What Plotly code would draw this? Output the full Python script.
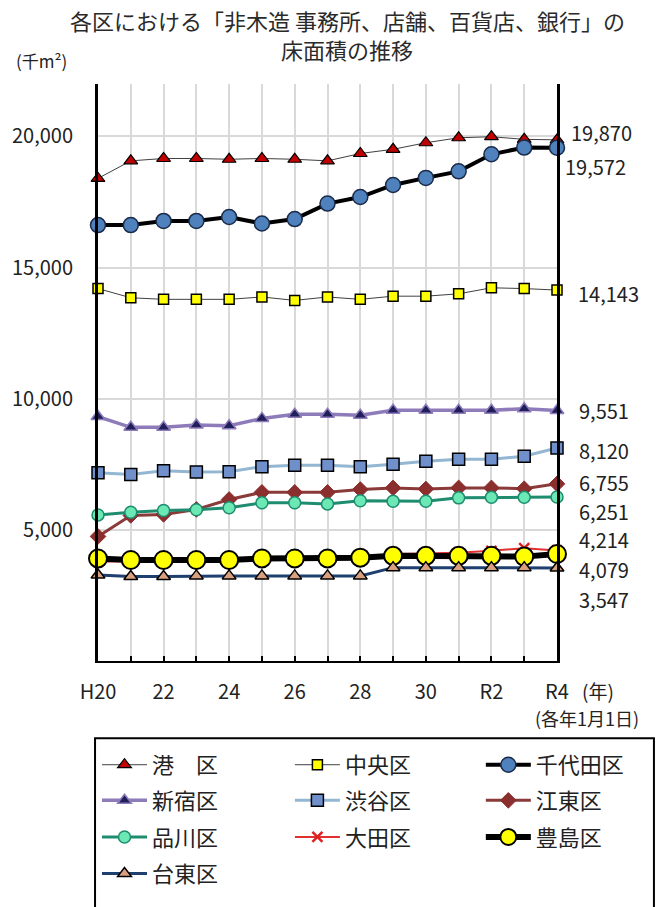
import plotly.graph_objects as go

years = ["H20", "21", "22", "23", "24", "25", "26", "27", "28", "29", "30", "R1", "R2", "R3", "R4"]
tick_labels = ["H20", "", "22", "", "24", "", "26", "", "28", "", "30", "", "R2", "", "R4"]

minato = [18400, 19070, 19160, 19160, 19130, 19160, 19130, 19070, 19350, 19510, 19760, 19950, 19990, 19890, 19870]
chuo = [14200, 13850, 13790, 13790, 13790, 13880, 13750, 13880, 13790, 13910, 13910, 14000, 14230, 14200, 14143]
chiyoda = [16620, 16620, 16780, 16780, 16930, 16680, 16850, 17440, 17690, 18150, 18420, 18670, 19320, 19575, 19572]
shinjuku = [9320, 8910, 8910, 9000, 8970, 9250, 9410, 9410, 9370, 9560, 9560, 9560, 9560, 9620, 9551]
shibuya = [7180, 7110, 7250, 7210, 7220, 7410, 7460, 7460, 7410, 7500, 7620, 7690, 7690, 7810, 8120]
koto = [4750, 5550, 5590, 5780, 6160, 6430, 6430, 6430, 6540, 6600, 6560, 6600, 6600, 6570, 6755]
shinagawa = [5570, 5670, 5740, 5770, 5840, 6030, 6030, 5990, 6110, 6090, 6090, 6220, 6240, 6240, 6251]
ota = [3780, 3800, 3820, 3850, 3870, 3900, 3920, 3940, 3960, 4080, 4100, 4130, 4200, 4300, 4214]
toshima = [3910, 3850, 3850, 3850, 3850, 3910, 3910, 3910, 3940, 4010, 4010, 4010, 4010, 3980, 4079]
taito = [3280, 3220, 3220, 3245, 3245, 3245, 3245, 3245, 3245, 3560, 3560, 3560, 3560, 3560, 3547]

FONT = "Noto Sans CJK JP, Noto Sans, sans-serif"
W, H = 668, 907
PL, PR, PT, PB = 93, 557, 84, 667


def px(x):
    return (x - PL) / (PR - PL)


def py(y):
    return (PB - y) / (PB - PT)


xs = list(range(len(years)))

series = [
    # name, data, line color, line width, symbol, marker color, marker size, outline color, outline width
    ("港　区", minato, "#404040", 1, "triangle-up", "#C00000", 12, "#000000", 1.2),
    ("中央区", chuo, "#404040", 1, "square", "#FFFF00", 10, "#000000", 1.5),
    ("千代田区", chiyoda, "#000000", 4, "circle", "#4F81BD", 15, "#1A2A48", 1.5),
    ("新宿区", shinjuku, "#8E7BBA", 3.5, "triangle-up", "#1F1F5A", 12, "#8E7BBA", 1.5),
    ("渋谷区", shibuya, "#93B6D2", 3, "square", "#7090CC", 12, "#000000", 1.5),
    ("江東区", koto, "#8B3A3A", 3, "diamond", "#8B2E2E", 12, "#8B2E2E", 1),
    ("品川区", shinagawa, "#1E8C6E", 3, "circle", "#6BE8B4", 12, "#1E8C6E", 1.5),
    ("大田区", ota, "#E03030", 2, "x-thin", "#E02020", 10, "#E02020", 2.5),
    ("豊島区", toshima, "#000000", 6, "circle", "#FFFF00", 18, "#000000", 2),
    ("台東区", taito, "#1F3F6F", 3, "triangle-up", "#D9A080", 12, "#000000", 1.5),
]

fig = go.Figure()
for i, (name, data, lc, lw, sym, mc, ms, oc, ow) in enumerate(series):
    fig.add_trace(go.Scatter(
        x=xs, y=data, name=name, mode="lines+markers",
        line=dict(color=lc, width=lw),
        marker=dict(symbol=sym, color=mc, size=ms, line=dict(color=oc, width=ow)),
        cliponaxis=False, legend="legend" if i == 0 else f"legend{i + 1}",
    ))

annotations = []
# title
annotations.append(dict(text="各区における「非木造 事務所、店舗、百貨店、銀行」の", x=px(345), y=py(19),
                        xref="paper", yref="paper", showarrow=False, xanchor="center", yanchor="middle",
                        font=dict(size=22, family=FONT, color="#2a2a2a")))
annotations.append(dict(text="床面積の推移", x=px(345), y=py(49),
                        xref="paper", yref="paper", showarrow=False, xanchor="center", yanchor="middle",
                        font=dict(size=22, family=FONT, color="#2a2a2a")))
annotations.append(dict(text="(千m²)", x=px(8), y=py(60), xref="paper", yref="paper", showarrow=False,
                        xanchor="left", yanchor="middle", font=dict(size=17, family=FONT, color="#222222")))
annotations.append(dict(text="(年)", x=px(598), y=py(697), xref="paper", yref="paper", showarrow=False,
                        xanchor="center", yanchor="middle", font=dict(size=19, family=FONT, color="#222222")))
annotations.append(dict(text="(各年1月1日)", x=px(642), y=py(725), xref="paper", yref="paper", showarrow=False,
                        xanchor="right", yanchor="middle", font=dict(size=18, family=FONT, color="#222222")))

# end labels
end_pos = {
    "港　区": (570, 133), "千代田区": (564, 167), "中央区": (577, 296), "新宿区": (578, 414),
    "渋谷区": (578, 454), "江東区": (578, 487), "品川区": (578, 516), "大田区": (578, 544),
    "豊島区": (578, 575), "台東区": (578, 605),
}
for name, data, *_ in series:
    lx, ly = end_pos[name]
    annotations.append(dict(text=f"{data[-1]:,}", x=px(lx), y=py(ly), xref="paper", yref="paper",
                            showarrow=False, xanchor="left", yanchor="middle", borderpad=0,
                            font=dict(size=20, family=FONT, color="#222222")))

legend_common = dict(xanchor="left", yanchor="middle", bgcolor="rgba(0,0,0,0)", borderwidth=0,
                     font=dict(size=22, family=FONT, color="#222222"), itemwidth=45)
col_x = [92, 287, 480]
row_y = [772, 808, 845, 882]
legends = {}
for i in range(len(series)):
    key = "legend" if i == 0 else f"legend{i + 1}"
    legends[key] = dict(x=px(col_x[i % 3]), y=py(row_y[i // 3]), **legend_common)

fig.update_layout(
    width=W, height=H,
    margin=dict(l=PL, r=W - PR, t=PT, b=H - PB, pad=0),
    paper_bgcolor="white", plot_bgcolor="white",
    font=dict(family=FONT, size=19, color="#222222"),
    showlegend=True,
    annotations=annotations,
    shapes=[dict(type="rect", xref="paper", yref="paper", x0=px(90), x1=px(655), y0=py(745), y1=py(960),
                 line=dict(color="#000000", width=2), fillcolor="rgba(0,0,0,0)", layer="above")],
    xaxis=dict(range=[0, 14], tickvals=xs, ticktext=tick_labels, showgrid=True, gridcolor="#D9D9D9",
               gridwidth=2, showline=True, linecolor="#000000", linewidth=2, ticks="inside", ticklen=5,
               tickcolor="#000000", tickwidth=1.5, ticklabelstandoff=12, zeroline=False,
               tickfont=dict(size=20, family=FONT, color="#222222")),
    yaxis=dict(range=[0, 22000], tickvals=[5000, 10000, 15000, 20000], tickformat=",", showgrid=True,
               gridcolor="#D9D9D9", gridwidth=2, showline=True, linecolor="#000000", linewidth=3,
               mirror=True, ticks="", zeroline=False, ticklabelstandoff=18,
               tickfont=dict(size=20, family=FONT, color="#222222")),
    **legends,
)

fig.write_html("out.html")
